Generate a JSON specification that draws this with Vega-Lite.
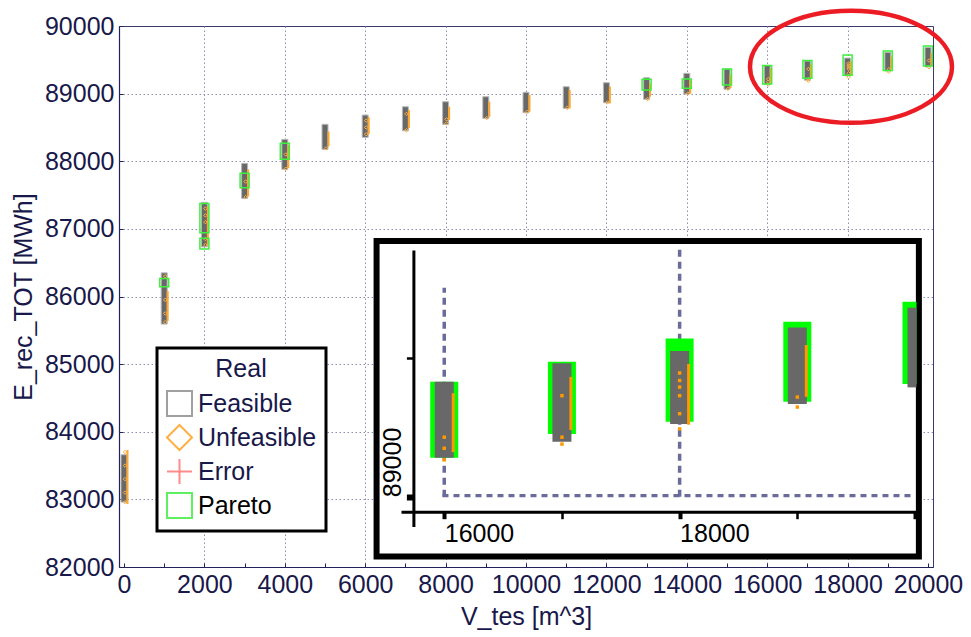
{
  "$schema": "https://vega.github.io/schema/vega-lite/v6.json",
  "width": 814,
  "height": 541,
  "autosize": {"type": "none"},
  "padding": {"left": 119, "top": 26, "right": 38, "bottom": 70},
  "background": "white",
  "config": {"view": {"stroke": "#3a3a6e", "strokeWidth": 1}, "font": "Liberation Sans", "legend": {"strokeWidth": 3}},
  "datasets": {
    "cols": [
      {"V": 0, "lo": 82960, "hi": 83660},
      {"V": 1000, "lo": 85592, "hi": 86350},
      {"V": 2000, "lo": 86735, "hi": 87392},
      {"V": 3000, "lo": 87451, "hi": 87969},
      {"V": 4000, "lo": 87880, "hi": 88324},
      {"V": 5000, "lo": 88176, "hi": 88546},
      {"V": 6000, "lo": 88353, "hi": 88683},
      {"V": 7000, "lo": 88451, "hi": 88806},
      {"V": 8000, "lo": 88546, "hi": 88880},
      {"V": 9000, "lo": 88634, "hi": 88954},
      {"V": 10000, "lo": 88718, "hi": 89019},
      {"V": 11000, "lo": 88782, "hi": 89102},
      {"V": 12000, "lo": 88865, "hi": 89161},
      {"V": 13000, "lo": 88916, "hi": 89235},
      {"V": 14000, "lo": 88994, "hi": 89300},
      {"V": 15000, "lo": 89064, "hi": 89364},
      {"V": 16000, "lo": 89141, "hi": 89415},
      {"V": 17000, "lo": 89199, "hi": 89482},
      {"V": 18000, "lo": 89263, "hi": 89526},
      {"V": 19000, "lo": 89335, "hi": 89611},
      {"V": 20000, "lo": 89395, "hi": 89683}
    ],
    "pareto": [
      {"V": 1000, "lo": 86144, "hi": 86268},
      {"V": 2000, "lo": 86942, "hi": 87377},
      {"V": 2000, "lo": 86701, "hi": 86860},
      {"V": 3000, "lo": 87608, "hi": 87821},
      {"V": 4000, "lo": 88028, "hi": 88265},
      {"V": 13000, "lo": 89053, "hi": 89211},
      {"V": 14000, "lo": 89078, "hi": 89216},
      {"V": 15000, "lo": 89127, "hi": 89364},
      {"V": 16000, "lo": 89141, "hi": 89415},
      {"V": 17000, "lo": 89227, "hi": 89488},
      {"V": 18000, "lo": 89271, "hi": 89572},
      {"V": 19000, "lo": 89343, "hi": 89632},
      {"V": 20000, "lo": 89407, "hi": 89704}
    ],
    "unfr": [
      {"V": 0, "lo": 82930, "hi": 83730},
      {"V": 1000, "lo": 85640, "hi": 86080},
      {"V": 2000, "lo": 86760, "hi": 87330},
      {"V": 3000, "lo": 87480, "hi": 87880},
      {"V": 4000, "lo": 87900, "hi": 88240},
      {"V": 5000, "lo": 88220, "hi": 88440},
      {"V": 6000, "lo": 88400, "hi": 88650},
      {"V": 7000, "lo": 88490, "hi": 88757},
      {"V": 8000, "lo": 88609, "hi": 88806},
      {"V": 9000, "lo": 88658, "hi": 88880},
      {"V": 10000, "lo": 88732, "hi": 88979},
      {"V": 11000, "lo": 88782, "hi": 89053},
      {"V": 12000, "lo": 88856, "hi": 89102},
      {"V": 13000, "lo": 88954, "hi": 89152},
      {"V": 14000, "lo": 89000, "hi": 89200},
      {"V": 15000, "lo": 89080, "hi": 89280},
      {"V": 16000, "lo": 89161, "hi": 89374},
      {"V": 17000, "lo": 89241, "hi": 89433},
      {"V": 18000, "lo": 89260, "hi": 89480},
      {"V": 19000, "lo": 89361, "hi": 89548},
      {"V": 20000, "lo": 89410, "hi": 89600}
    ],
    "unf": [
      {"V": 0, "E": 83700, "cat": "Unfeasible"},
      {"V": 0, "E": 83500, "cat": "Unfeasible"},
      {"V": 0, "E": 83300, "cat": "Unfeasible"},
      {"V": 0, "E": 83100, "cat": "Unfeasible"},
      {"V": 0, "E": 82960, "cat": "Unfeasible"},
      {"V": 1000, "E": 85620, "cat": "Unfeasible"},
      {"V": 1000, "E": 85750, "cat": "Unfeasible"},
      {"V": 1000, "E": 85950, "cat": "Unfeasible"},
      {"V": 1000, "E": 86300, "cat": "Unfeasible"},
      {"V": 2000, "E": 87300, "cat": "Unfeasible"},
      {"V": 2000, "E": 87200, "cat": "Unfeasible"},
      {"V": 2000, "E": 87100, "cat": "Unfeasible"},
      {"V": 2000, "E": 86850, "cat": "Unfeasible"},
      {"V": 2000, "E": 86760, "cat": "Unfeasible"},
      {"V": 3000, "E": 87470, "cat": "Unfeasible"},
      {"V": 3000, "E": 87700, "cat": "Unfeasible"},
      {"V": 4000, "E": 87890, "cat": "Unfeasible"},
      {"V": 4000, "E": 88100, "cat": "Unfeasible"},
      {"V": 5000, "E": 88190, "cat": "Unfeasible"},
      {"V": 6000, "E": 88600, "cat": "Unfeasible"},
      {"V": 6000, "E": 88500, "cat": "Unfeasible"},
      {"V": 6000, "E": 88400, "cat": "Unfeasible"},
      {"V": 7000, "E": 88460, "cat": "Unfeasible"},
      {"V": 7000, "E": 88700, "cat": "Unfeasible"},
      {"V": 8000, "E": 88560, "cat": "Unfeasible"},
      {"V": 8000, "E": 88620, "cat": "Unfeasible"},
      {"V": 9000, "E": 88640, "cat": "Unfeasible"},
      {"V": 10000, "E": 88730, "cat": "Unfeasible"},
      {"V": 11000, "E": 88790, "cat": "Unfeasible"},
      {"V": 12000, "E": 88870, "cat": "Unfeasible"},
      {"V": 13000, "E": 88920, "cat": "Unfeasible"},
      {"V": 14000, "E": 89000, "cat": "Unfeasible"},
      {"V": 15000, "E": 89070, "cat": "Unfeasible"},
      {"V": 16000, "E": 89133, "cat": "Unfeasible"},
      {"V": 16000, "E": 89175, "cat": "Unfeasible"},
      {"V": 16000, "E": 89215, "cat": "Unfeasible"},
      {"V": 17000, "E": 89190, "cat": "Unfeasible"},
      {"V": 17000, "E": 89365, "cat": "Unfeasible"},
      {"V": 17000, "E": 89215, "cat": "Unfeasible"},
      {"V": 18000, "E": 89245, "cat": "Unfeasible"},
      {"V": 18000, "E": 89447, "cat": "Unfeasible"},
      {"V": 18000, "E": 89420, "cat": "Unfeasible"},
      {"V": 18000, "E": 89396, "cat": "Unfeasible"},
      {"V": 18000, "E": 89365, "cat": "Unfeasible"},
      {"V": 18000, "E": 89300, "cat": "Unfeasible"},
      {"V": 19000, "E": 89324, "cat": "Unfeasible"},
      {"V": 19000, "E": 89360, "cat": "Unfeasible"},
      {"V": 20000, "E": 89390, "cat": "Unfeasible"},
      {"V": 20000, "E": 89490, "cat": "Unfeasible"}
    ]
  },
  "layer": [
    {
      "layer": [
        {
          "data": {"name": "cols"},
          "mark": {"type": "bar", "width": 6, "fill": "#686868", "stroke": "#b8b8b8", "strokeWidth": 1, "clip": true},
          "encoding": {
            "x": {
              "field": "V", "type": "quantitative", "title": "V_tes [m^3]",
              "scale": {"domain": [0, 20000], "nice": false, "zero": false},
              "axis": {
                "values": [0, 1000, 2000, 3000, 4000, 5000, 6000, 7000, 8000, 9000, 10000, 11000, 12000, 13000, 14000, 15000, 16000, 17000, 18000, 19000, 20000],
                "format": "d",
                "labelExpr": "datum.value % 2000 === 0 ? datum.label : ''",
                "labelFlush": false, "labelOverlap": false,
                "labelFont": "Liberation Sans", "labelFontSize": 25, "labelColor": "#18184a", "labelPadding": 9,
                "tickSize": -4, "tickColor": "#22225a", "tickWidth": 1,
                "domainColor": "#22225a", "domainWidth": 1.2,
                "grid": true, "gridColor": "#8e8eb6", "gridDash": [1.5, 2.5], "gridWidth": 1,
                "gridOpacity": {"condition": {"test": "datum.value % 2000 === 0 && datum.value > 0 && datum.value < 20000", "value": 1}, "value": 0},
                "titleFont": "Liberation Sans", "titleFontSize": 25, "titleFontWeight": "normal", "titleColor": "#18184a", "titlePadding": 7
              }
            },
            "y": {
              "field": "lo", "type": "quantitative", "title": "E_rec_TOT [MWh]",
              "scale": {"domain": [82000, 90000], "nice": false, "zero": false},
              "axis": {
                "values": [82000, 82500, 83000, 83500, 84000, 84500, 85000, 85500, 86000, 86500, 87000, 87500, 88000, 88500, 89000, 89500, 90000],
                "format": "d",
                "labelExpr": "datum.value % 1000 === 0 ? datum.label : ''",
                "labelOverlap": false,
                "labelFont": "Liberation Sans", "labelFontSize": 25, "labelColor": "#18184a", "labelPadding": 9,
                "tickSize": -4, "tickColor": "#22225a", "tickWidth": 1,
                "domainColor": "#22225a", "domainWidth": 1.2,
                "grid": true, "gridColor": "#8e8eb6", "gridDash": [1.5, 2.5], "gridWidth": 1,
                "gridOpacity": {"condition": {"test": "datum.value % 1000 === 0 && datum.value > 82000 && datum.value < 90000", "value": 1}, "value": 0},
                "titleFont": "Liberation Sans", "titleFontSize": 25, "titleFontWeight": "normal", "titleColor": "#18184a", "titlePadding": 8
              }
            },
            "y2": {"field": "hi"}
          }
        },
        {
          "data": {"name": "unfr"},
          "mark": {"type": "bar", "width": 2, "xOffset": 3.5, "fill": "#ffa62b", "clip": true},
          "encoding": {
            "x": {"field": "V", "type": "quantitative", "title": "V_tes [m^3]"},
            "y": {"field": "lo", "type": "quantitative", "title": "E_rec_TOT [MWh]"},
            "y2": {"field": "hi"}
          }
        },
        {
          "data": {"name": "unf"},
          "mark": {"type": "point", "filled": false, "size": 12, "strokeWidth": 1, "opacity": 1, "clip": true, "xOffset": 1},
          "encoding": {
            "x": {"field": "V", "type": "quantitative", "title": "V_tes [m^3]"},
            "y": {"field": "E", "type": "quantitative", "title": "E_rec_TOT [MWh]"},
            "shape": {
              "field": "cat", "type": "nominal",
              "scale": {"domain": ["Feasible", "Unfeasible", "Error", "Pareto"], "range": ["square", "diamond", "M-1,0H1M0,-1V1", "square"]},
              "legend": {
                "title": "Real", "orient": "none", "legendX": 38, "legendY": 322, "direction": "vertical",
                "fillColor": "white", "strokeColor": "black", "padding": 9,
                "titleFont": "Liberation Sans", "titleFontSize": 25, "titleFontWeight": "normal", "titleColor": "#18184a",
                "titleAnchor": "middle", "titleAlign": "center", "titlePadding": 8,
                "labelFont": "Liberation Sans", "labelFontSize": 25,
                "labelColor": {"expr": "datum.label == 'Pareto' ? '#000000' : '#18184a'"},
                "labelOffset": 5, "symbolSize": 625, "symbolStrokeWidth": 2, "rowPadding": 1
              }
            },
            "stroke": {
              "field": "cat", "type": "nominal",
              "scale": {"domain": ["Feasible", "Unfeasible", "Error", "Pareto"], "range": ["#a0a0a0", "#ffae42", "#ff8a8a", "#5ef05e"]},
              "legend": {
                "title": "Real", "orient": "none", "legendX": 38, "legendY": 322, "direction": "vertical",
                "fillColor": "white", "strokeColor": "black", "padding": 9,
                "titleFont": "Liberation Sans", "titleFontSize": 25, "titleFontWeight": "normal", "titleColor": "#18184a",
                "titleAnchor": "middle", "titleAlign": "center", "titlePadding": 8,
                "labelFont": "Liberation Sans", "labelFontSize": 25,
                "labelColor": {"expr": "datum.label == 'Pareto' ? '#000000' : '#18184a'"},
                "labelOffset": 5, "symbolSize": 625, "symbolStrokeWidth": 2, "rowPadding": 1
              }
            }
          }
        },
        {
          "data": {"name": "pareto"},
          "mark": {"type": "bar", "width": 9, "filled": false, "stroke": "#3cf03c", "strokeWidth": 1.5, "clip": true},
          "encoding": {
            "x": {"field": "V", "type": "quantitative", "title": "V_tes [m^3]"},
            "y": {"field": "lo", "type": "quantitative", "title": "E_rec_TOT [MWh]"},
            "y2": {"field": "hi"}
          }
        },
        {
          "data": {"values": [{}]},
          "mark": {"type": "point", "shape": "M-1,0A1,0.555 0 1,1 1,0A1,0.555 0 1,1 -1,0Z", "size": 40804, "filled": false, "stroke": "#ec1c24", "strokeWidth": 4.5, "opacity": 1},
          "encoding": {
            "x": {"datum": 18084, "type": "quantitative", "title": "V_tes [m^3]"},
            "y": {"datum": 89398, "type": "quantitative", "title": "E_rec_TOT [MWh]"}
          }
        }
      ]
    },
    {
      "layer": [
        {
          "data": {"values": [{}]},
          "mark": {"type": "rect", "fill": "white", "stroke": "black", "strokeWidth": 6},
          "encoding": {
            "x": {
              "datum": 15425, "type": "quantitative", "title": null,
              "scale": {"domain": [15675, 20000], "range": [282, 801], "nice": false, "zero": false},
              "axis": {
                "orient": "bottom", "offset": -55.3, "zindex": 1, "title": null,
                "values": [16000, 17000, 18000, 19000, 20000], "format": "d",
                "labelExpr": "datum.value === 16000 || datum.value === 18000 ? datum.label : ''",
                "labelFlush": false, "labelOverlap": false, "labelAlign": "left", "labelBaseline": "top",
                "labelFont": "Liberation Sans", "labelFontSize": 25, "labelColor": "#000000", "labelPadding": 3,
                "tickSize": 7, "tickColor": "#000000",
                "tickWidth": {"condition": {"test": "datum.value % 2000 === 0", "value": 4}, "value": 2.5},
                "domainColor": "#000000", "domainWidth": 3, "grid": false
              }
            },
            "x2": {"datum": 20033},
            "y": {
              "datum": 88784, "type": "quantitative", "title": null,
              "scale": {"domain": [88892, 89891], "range": [500.6, 224.1], "nice": false, "zero": false},
              "axis": {
                "orient": "left", "offset": -294.4, "zindex": 1, "title": null,
                "values": [89000, 89500], "format": "d",
                "labelExpr": "datum.value === 89000 ? datum.label : ''",
                "labelOverlap": false, "labelAngle": 270, "labelAlign": "left", "labelBaseline": "alphabetic",
                "labelFont": "Liberation Sans", "labelFontSize": 25, "labelColor": "#000000", "labelPadding": 6,
                "tickSize": 7, "tickColor": "#000000",
                "tickWidth": {"condition": {"test": "datum.value === 89000", "value": 6}, "value": 2.5},
                "domainColor": "#000000", "domainWidth": 3, "grid": false
              }
            },
            "y2": {"datum": 89924}
          }
        },
        {
          "data": {"values": [{}]},
          "mark": {"type": "rule", "stroke": "#6b6b9b", "strokeWidth": 3.5, "strokeDash": [7, 5]},
          "encoding": {
            "x": {"datum": 16000, "type": "quantitative", "title": null},
            "y": {"datum": 89000, "type": "quantitative", "title": null},
            "y2": {"datum": 89755}
          }
        },
        {
          "data": {"values": [{}]},
          "mark": {"type": "rule", "stroke": "#6b6b9b", "strokeWidth": 3.5, "strokeDash": [7, 5]},
          "encoding": {
            "x": {"datum": 18000, "type": "quantitative", "title": null},
            "y": {"datum": 89000, "type": "quantitative", "title": null},
            "y2": {"datum": 89905}
          }
        },
        {
          "data": {"values": [{}]},
          "mark": {"type": "rule", "stroke": "#6b6b9b", "strokeWidth": 3.3, "strokeDash": [6, 5]},
          "encoding": {
            "x": {"datum": 15985, "type": "quantitative", "title": null},
            "x2": {"datum": 19990},
            "y": {"datum": 89004, "type": "quantitative", "title": null}
          }
        },
        {
          "data": {"name": "pareto"},
          "transform": [{"filter": "datum.V >= 16000 && datum.V < 20000"}],
          "mark": {"type": "bar", "width": 28, "fill": "#00ff00"},
          "encoding": {
            "x": {"field": "V", "type": "quantitative", "title": null},
            "y": {"field": "lo", "type": "quantitative", "title": null},
            "y2": {"field": "hi"}
          }
        },
        {
          "data": {"name": "pareto"},
          "transform": [{"filter": "datum.V === 20000"}],
          "mark": {"type": "bar", "width": 14, "xOffset": -5.5, "fill": "#00ff00"},
          "encoding": {
            "x": {"field": "V", "type": "quantitative", "title": null},
            "y": {"field": "lo", "type": "quantitative", "title": null},
            "y2": {"field": "hi"}
          }
        },
        {
          "data": {"name": "cols"},
          "transform": [{"filter": "datum.V >= 16000 && datum.V < 20000"}],
          "mark": {"type": "bar", "width": 19, "fill": "#686868"},
          "encoding": {
            "x": {"field": "V", "type": "quantitative", "title": null},
            "y": {"field": "lo", "type": "quantitative", "title": null},
            "y2": {"field": "hi"}
          }
        },
        {
          "data": {"name": "cols"},
          "transform": [{"filter": "datum.V === 20000"}],
          "mark": {"type": "bar", "width": 9, "xOffset": -3, "fill": "#686868"},
          "encoding": {
            "x": {"field": "V", "type": "quantitative", "title": null},
            "y": {"field": "lo", "type": "quantitative", "title": null},
            "y2": {"field": "hi"}
          }
        },
        {
          "data": {"name": "unfr"},
          "transform": [{"filter": "datum.V >= 16000 && datum.V < 20000"}],
          "mark": {"type": "bar", "width": 3, "xOffset": 9, "fill": "#ff9900"},
          "encoding": {
            "x": {"field": "V", "type": "quantitative", "title": null},
            "y": {"field": "lo", "type": "quantitative", "title": null},
            "y2": {"field": "hi"}
          }
        },
        {
          "data": {"name": "unf"},
          "transform": [{"filter": "datum.V >= 16000 && datum.V < 20000"}],
          "mark": {"type": "square", "size": 12, "color": "#ff9900", "opacity": 1},
          "encoding": {
            "x": {"field": "V", "type": "quantitative", "title": null},
            "y": {"field": "E", "type": "quantitative", "title": null}
          }
        }
      ]
    }
  ],
  "resolve": {"scale": {"x": "independent", "y": "independent"}, "axis": {"x": "independent", "y": "independent"}}
}
